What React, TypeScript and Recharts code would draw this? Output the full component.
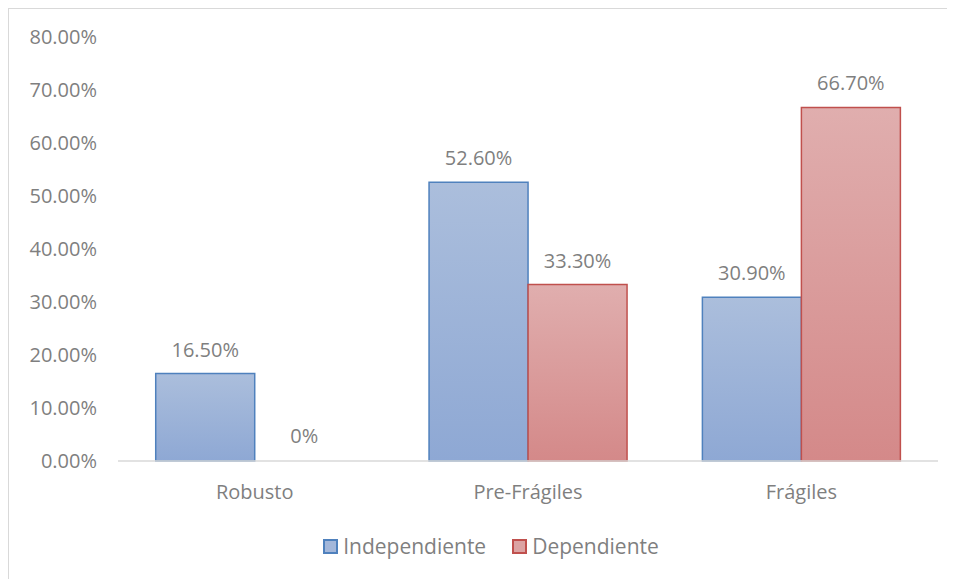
import React from 'react';
import { BarChart, Bar, XAxis, YAxis, LabelList, Cell } from 'recharts';

const CATEGORIES = ['Robusto', 'Pre-Frágiles', 'Frágiles'];
const INDEPENDIENTE = [16.5, 52.6, 30.9];
const DEPENDIENTE = [0, 33.3, 66.7];
const Y_TICKS = [0, 10, 20, 30, 40, 50, 60, 70, 80];

const FONT = '"Open Sans", "Noto Sans", sans-serif';
const TEXT_GRAY = '#7f7f7f';
const BLUE_STROKE = '#4f81bd';
const RED_STROKE = '#c0504d';

const chartData = CATEGORIES.map((name, i) => ({
  name,
  independiente: INDEPENDIENTE[i],
  dependiente: DEPENDIENTE[i],
}));

const barLabel = (v: any) => (Number(v) === 0 ? '0%' : `${Number(v).toFixed(2)}%`);

const renderValueLabel = (props: any) => {
  const { x, y, width, value } = props;
  if (value == null) return null;
  return (
    <text
      x={Number(x) + Number(width) / 2}
      y={Number(y) - 17}
      textAnchor="middle"
      fill={TEXT_GRAY}
      fontSize={20}
      fontFamily={FONT}
    >
      {barLabel(value)}
    </text>
  );
};

// zero values get a 1px invisible bar so the label list still places "0%"
const zeroPoint = (v: any) => (Number(v) === 0 ? 1 : 0);

function LegendItem({ label, fill, stroke }: { label: string; fill: string; stroke: string }) {
  return (
    <div style={{ display: 'flex', alignItems: 'center' }}>
      <span style={{ width: 11, height: 11, background: fill, border: `2px solid ${stroke}`, marginRight: 5 }} />
      <span>{label}</span>
    </div>
  );
}

export default function App() {
  return (
    <div
      style={{
        position: 'relative',
        width: 942,
        height: 580,
        border: '1px solid #d9d9d9',
        boxSizing: 'border-box',
        background: '#fff',
        fontFamily: FONT,
      }}
    >
      <BarChart
        width={940}
        height={578}
        data={chartData}
        margin={{ top: 28, right: 11, left: 0, bottom: 66 }}
        barCategoryGap="13.8%"
        barGap={0}
      >
        <defs>
          <linearGradient id="gradBlue" x1="0" y1="0" x2="0" y2="1">
            <stop offset="0%" stopColor="#abbedc" />
            <stop offset="100%" stopColor="#8ea8d4" />
          </linearGradient>
          <linearGradient id="gradRed" x1="0" y1="0" x2="0" y2="1">
            <stop offset="0%" stopColor="#e0aeae" />
            <stop offset="100%" stopColor="#d48989" />
          </linearGradient>
        </defs>
        <XAxis
          dataKey="name"
          axisLine={{ stroke: '#d9d9d9', strokeWidth: 1.5 }}
          tickLine={false}
          tickSize={0}
          tickMargin={24}
          height={60}
          tick={{ fontSize: 20, fill: TEXT_GRAY, fontFamily: FONT }}
        />
        <YAxis
          domain={[0, 80]}
          ticks={Y_TICKS}
          width={109}
          axisLine={false}
          tickLine={false}
          tickSize={0}
          tickMargin={21}
          tickFormatter={(v: number) => `${v.toFixed(2)}%`}
          tick={{ fontSize: 20, fill: TEXT_GRAY, fontFamily: FONT }}
        />
        <Bar dataKey="independiente" fill="url(#gradBlue)" stroke={BLUE_STROKE} strokeWidth={1.5} minPointSize={zeroPoint} isAnimationActive={false}>
          {INDEPENDIENTE.map((v, i) => (
            <Cell key={i} fill={v === 0 ? 'transparent' : 'url(#gradBlue)'} stroke={v === 0 ? 'none' : BLUE_STROKE} />
          ))}
          <LabelList dataKey="independiente" content={renderValueLabel} />
        </Bar>
        <Bar dataKey="dependiente" fill="url(#gradRed)" stroke={RED_STROKE} strokeWidth={1.5} minPointSize={zeroPoint} isAnimationActive={false}>
          {DEPENDIENTE.map((v, i) => (
            <Cell key={i} fill={v === 0 ? 'transparent' : 'url(#gradRed)'} stroke={v === 0 ? 'none' : RED_STROKE} />
          ))}
          <LabelList dataKey="dependiente" content={renderValueLabel} />
        </Bar>
      </BarChart>
      <div
        style={{
          position: 'absolute',
          top: 523,
          left: 0,
          width: '100%',
          display: 'flex',
          justifyContent: 'center',
          gap: 26,
          paddingLeft: 24,
          boxSizing: 'border-box',
          fontSize: 21,
          color: TEXT_GRAY,
        }}
      >
        <LegendItem label="Independiente" fill="#a3b7da" stroke={BLUE_STROKE} />
        <LegendItem label="Dependiente" fill="#dca3a3" stroke={RED_STROKE} />
      </div>
    </div>
  );
}
